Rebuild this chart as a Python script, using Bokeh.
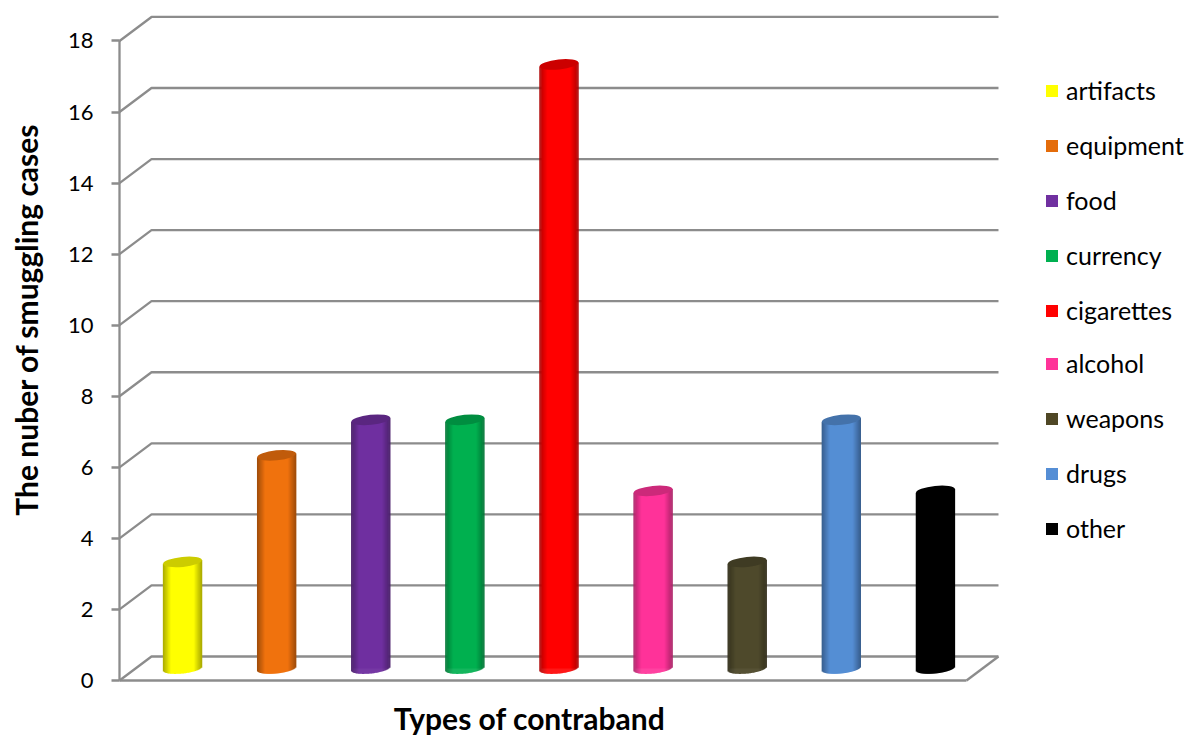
from bokeh.plotting import figure
from bokeh.models import Legend, LegendItem, Label, FixedTicker
from bokeh.embed import file_html
from bokeh.resources import INLINE
import math

categories = ["artifacts", "equipment", "food", "currency", "cigarettes", "alcohol", "weapons", "drugs", "other"]
values = [3, 6, 7, 7, 17, 5, 3, 7, 5]
colors = ["#FFFF00", "#F0720E", "#7030A0", "#00B050", "#FF0000", "#FF3399", "#4F4A2C", "#558ED5", "#000000"]
legend_colors = ["#FFFF00", "#E46C0A", "#7030A0", "#00B050", "#FF0000", "#FF3399", "#4F4725", "#558ED5", "#000000"]
y_ticks = [0, 2, 4, 6, 8, 10, 12, 14, 16, 18]
y_title = "The nuber of smuggling cases"
x_title = "Types of contraband"

GRID = "#8C8C8C"
FONT = "Lato"
W, H = 1189, 735
LEFT, BOTTOM = 119, 55
PX_X = 94.11
PX_Y = 35.53
DEPTH_X = 32 / PX_X
DEPTH_Y = 24 / PX_Y
BAR_PX = 39

p = figure(width=W, height=H, output_backend="svg", toolbar_location=None,
           x_range=(-LEFT / PX_X, (W - LEFT) / PX_X), y_range=(-BOTTOM / PX_Y, (H - BOTTOM) / PX_Y),
           min_border_left=0, min_border_right=0, min_border_top=0, min_border_bottom=0,
           outline_line_color=None, background_fill_color="white", border_fill_color="white")
p.grid.visible = False

# y axis
ya = p.yaxis[0]
ya.fixed_location = 0
ya.bounds = (0, 18)
ya.ticker = FixedTicker(ticks=y_ticks)
ya.axis_line_color = GRID
ya.axis_line_width = 2.3
ya.major_tick_line_color = GRID
ya.major_tick_line_width = 2.3
ya.major_tick_out = 8
ya.major_tick_in = 0
ya.minor_tick_line_color = None
ya.major_label_text_font = FONT
ya.major_label_text_font_size = "22px"
ya.major_label_text_color = "#000000"
ya.major_label_standoff = 18

# x axis: the front floor edge
xa = p.xaxis[0]
xa.fixed_location = 0
xa.bounds = (0, len(categories))
xa.ticker = FixedTicker(ticks=[])
xa.axis_line_color = GRID
xa.axis_line_width = 2.3
xa.major_tick_line_color = None
xa.minor_tick_line_color = None
xa.major_label_text_font_size = "0px"

# back wall gridlines with their slanted side edges
p.multi_line(xs=[[0, DEPTH_X, len(categories) + DEPTH_X] for _ in y_ticks],
             ys=[[v, v + DEPTH_Y, v + DEPTH_Y] for v in y_ticks],
             line_color=GRID, line_width=2.3)
p.line(x=[len(categories), len(categories) + DEPTH_X], y=[0, DEPTH_Y], line_color=GRID, line_width=2.3)


def shade(hexcolor, f):
    r, g, b = (int(hexcolor[i:i + 2], 16) for i in (1, 3, 5))
    return "#%02X%02X%02X" % (round(r * f), round(g * f), round(b * f))


TILT = 2.0 / PX_Y          # half-rise of the slanted ellipse across the bar
RY = 5.0 / PX_Y            # ellipse half-height
N = BAR_PX
items = []
for i, (name, val, col, lcol) in enumerate(zip(categories, values, colors, legend_colors)):
    cx = i + 0.5 + DEPTH_X / 2
    base = DEPTH_Y / 2
    flat = p.vbar(x=[cx], bottom=[base], top=[base + val], width=(BAR_PX - 4) / PX_X,
                  fill_color=lcol, line_color=None)
    items.append(LegendItem(label=name, renderers=[flat]))
    xs, tops, bots, fills = [], [], [], []
    for k in range(N):
        t = (k + 0.5) / N * 2 - 1
        xs.append(cx + t * BAR_PX / 2 / PX_X)
        tops.append(base + val + TILT * t)
        bots.append(base + TILT * t - RY * math.sqrt(max(0, 1 - t * t)))
        f = min(1.0, 0.66 + 0.34 * (1 - abs(t)) / 0.42)
        fills.append(shade(col, f))
    p.vbar(x=xs, top=tops, bottom=bots, width=1.4 / PX_X, fill_color=fills, line_color=None)
    p.ellipse(x=[cx], y=[base + val], width=[BAR_PX], height=[10], width_units="screen",
              height_units="screen", angle=[math.atan2(4, BAR_PX)], fill_color=shade(col, 0.8), line_color=None)


def make_legend(part, bottom_px):
    return Legend(items=part, location=(1044, H - bottom_px), orientation="vertical",
                  background_fill_alpha=0, border_line_color=None, margin=0, padding=0,
                  glyph_width=15, glyph_height=15, label_standoff=7, label_height=15, label_width=100,
                  spacing=25, label_text_font=FONT, label_text_font_size="25px", label_text_color="#000000")


p.add_layout(make_legend(items[:5], 325), "center")
p.add_layout(make_legend(items[5:], 543), "center")

p.add_layout(Label(x=529, y=H - 717, x_units="screen", y_units="screen", text=x_title,
                   text_font=FONT, text_font_style="bold", text_font_size="30px", text_color="#000000",
                   text_align="center", text_baseline="middle"))
p.add_layout(Label(x=25, y=H - 319, x_units="screen", y_units="screen", text=y_title,
                   angle=math.pi / 2, text_font=FONT, text_font_style="bold", text_font_size="30px",
                   text_color="#000000", text_align="center", text_baseline="middle"))

open("out.html", "w").write(file_html(p, INLINE))
